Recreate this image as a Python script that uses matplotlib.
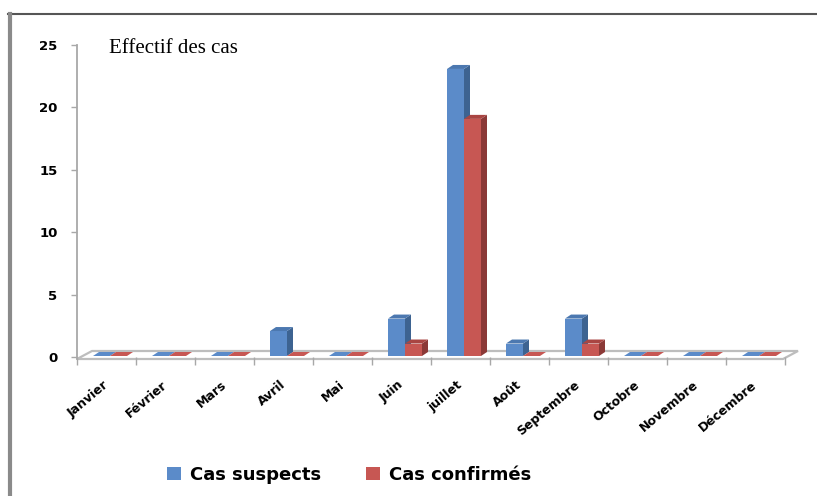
import matplotlib
matplotlib.use("Agg")
import matplotlib.pyplot as plt
from matplotlib.patches import Polygon, Patch
from matplotlib.lines import Line2D

months = ["Janvier", "Février", "Mars", "Avril", "Mai", "Juin", "juillet",
          "Août", "Septembre", "Octobre", "Novembre", "Décembre"]
suspects = [0, 0, 0, 2, 0, 3, 23, 1, 3, 0, 0, 0]
confirmes = [0, 0, 0, 0, 0, 1, 19, 0, 1, 0, 0, 0]
yticks = [0, 5, 10, 15, 20, 25]
series_names = ["Cas suspects", "Cas confirmés"]

W, H = 817, 496
fig = plt.figure(figsize=(W / 100, H / 100), dpi=100)
fig.patch.set_facecolor("white")

# axes: x from -0.5..11.5 -> px 77..785 ; y 0..25 -> px(top) 357..45
left_px, right_px = 77, 785
y0_px, y25_px = 357, 45
ax = fig.add_axes([left_px / W, (H - y0_px) / H, (right_px - left_px) / W,
                   (y0_px - y25_px) / H])
ax.set_xlim(-0.5, len(months) - 0.5)
ax.set_ylim(0, 25)
for s in ax.spines.values():
    s.set_visible(False)

px_x = 1 / 59.0      # data units per px in x
px_y = 25 / 312.0    # data units per px in y

# floor (3D base)
fdx, fdy = 15 * px_x, 8 * px_y
fy = -2 * px_y
floor = Polygon([(-0.5, fy), (11.5 - 2 * px_x, fy), (11.5 - 2 * px_x + fdx, fy + fdy),
                 (-0.5 + fdx, fy + fdy)], closed=True, facecolor="white",
                edgecolor="#bdbdbd", lw=1.6, clip_on=False, zorder=1)
ax.add_patch(floor)
# y axis line
ax.plot([-0.5, -0.5], [fy, 25], color="#a8a8a8", lw=1.3, clip_on=False, zorder=2)

# 3D bars
dx, dy = 6 * px_x, 4 * px_y
bw = 17 * px_x
offs = [-13.5 * px_x, 3.5 * px_x]
by = 1 * px_y
colors = [("#5b8bc9", "#3d6391", "#4c78b0"), ("#c75753", "#8b3937", "#a94542")]

def bar3d(x, h, cols, z):
    front, side, top = cols
    y1 = by + h
    if h > 0:
        ax.add_patch(Polygon([(x, by), (x + bw, by), (x + bw, y1), (x, y1)],
                             closed=True, facecolor=front, edgecolor="none",
                             zorder=z, clip_on=False))
        ax.add_patch(Polygon([(x + bw, by), (x + bw + dx, by + dy), (x + bw + dx, y1 + dy),
                              (x + bw, y1)], closed=True, facecolor=side,
                             edgecolor="none", zorder=z, clip_on=False))
    ax.add_patch(Polygon([(x, y1), (x + bw, y1), (x + bw + dx, y1 + dy), (x + dx, y1 + dy)],
                         closed=True, facecolor=top if h > 0 else front,
                         edgecolor="none", zorder=z, clip_on=False))

for i in range(len(months)):
    bar3d(i + offs[0], suspects[i], colors[0], 3)
    bar3d(i + offs[1], confirmes[i], colors[1], 4)

# y ticks
ax.set_yticks(yticks)
ax.set_yticklabels([str(v) for v in yticks], fontsize=9.5, fontweight="bold")
ax.tick_params(axis="y", direction="out", length=4, width=1, color="#a8a8a8", pad=10)

# x ticks: boundaries as minor ticks, labels at centers
ax.set_xticks([i - 0.5 for i in range(len(months) + 1)], minor=True)
ax.set_xticks(range(len(months)))
ax.set_xticklabels(months, fontsize=9, fontweight="bold")
ax.tick_params(axis="x", which="minor", direction="out", length=6, width=1,
               color="#a8a8a8")
ax.tick_params(axis="x", which="major", length=0, pad=19)
for lab in ax.get_xticklabels():
    lab.set_rotation(40)
    lab.set_ha("right")
    lab.set_va("center")
    lab.set_rotation_mode("anchor")

# title text
fig.text(109 / W, 1 - 53 / H, "Effectif des cas", fontsize=15,
         family="Liberation Serif", ha="left", va="baseline")

# legend
handles = [Patch(facecolor=colors[0][0], edgecolor="none"),
           Patch(facecolor=colors[1][0], edgecolor="none")]
fig.legend(handles, series_names, loc="center", bbox_to_anchor=(349 / W, 21 / H),
           ncol=2, frameon=False, prop={"weight": "bold", "size": 13},
           handlelength=0.75, handleheight=0.75, handletextpad=0.5,
           columnspacing=2.5)

# frame lines
fig.add_artist(Line2D([8 / W, 1], [1 - 14 / H, 1 - 14 / H], color="#555555", lw=1.5,
                      transform=fig.transFigure))
fig.add_artist(Line2D([10 / W, 10 / W], [0, 1 - 14 / H], color="#8a8a8a", lw=3,
                      transform=fig.transFigure))

fig.savefig("out.png", dpi=100)
